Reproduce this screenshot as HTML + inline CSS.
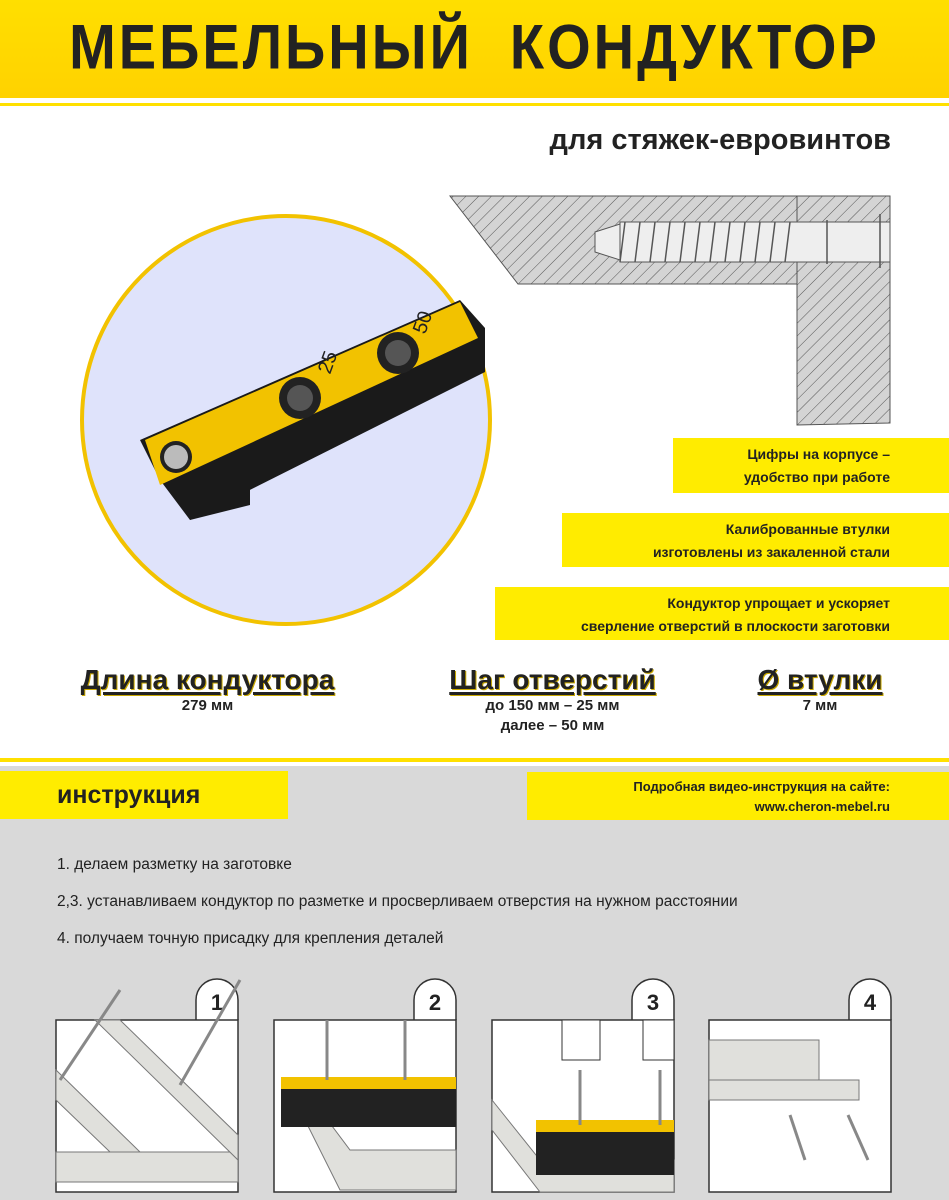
<!DOCTYPE html>
<html><head><meta charset="utf-8"><style>
body{margin:0;width:949px;height:1200px;overflow:hidden;background:#fff;font-family:"Liberation Sans","DejaVu Sans",sans-serif;position:relative}
.a{position:absolute}
.ban{position:absolute;background:#ffec00;right:0;text-align:right;font-weight:bold;font-size:14px;color:#222;line-height:23px;box-sizing:border-box;padding-right:59px;padding-top:5px}
.spec{position:absolute;text-align:center;font-weight:bold;color:#222}
.spec b{display:block;font-size:28px;text-decoration:underline;text-decoration-thickness:3px;text-underline-offset:3px;line-height:32px;text-shadow:1px 1px 0 #c9a800}
.spec span{font-size:15px;line-height:20px}
</style></head><body>
<div class="a" style="left:0;top:0;width:949px;height:98px;background:linear-gradient(#ffdf00,#ffd200)"></div>
<div class="a" style="left:0;top:103px;width:949px;height:3px;background:#ffe000"></div>
<div class="a" style="left:0;top:14px;width:949px;text-align:center;font-size:56px;font-weight:900;letter-spacing:3px;color:#222;transform:scaleY(1.12)">МЕБЕЛЬНЫЙ&nbsp; КОНДУКТОР</div>
<div class="a" style="right:58px;top:124px;font-size:29px;font-weight:bold;color:#222">для стяжек-евровинтов</div>

<svg class="a" style="left:0;top:0" width="949" height="770">
<defs><pattern id="h" width="9" height="9" patternUnits="userSpaceOnUse" patternTransform="rotate(45)"><rect width="9" height="9" fill="#d4d4d4"/><line x1="0" y1="0" x2="0" y2="9" stroke="#555" stroke-width="1"/></pattern></defs>
<polygon points="450,196 890,196 890,423 797,425 797,284 518,284" fill="url(#h)" stroke="#555"/>
<line x1="797" y1="196" x2="797" y2="284" stroke="#555"/>
<rect x="620" y="222" width="270" height="40" fill="#eee" stroke="#555"/>
<polygon points="595,232 620,224 620,260 595,252" fill="#eee" stroke="#555"/>
<g stroke="#555" stroke-width="1.5">
<line x1="625" y1="222" x2="620" y2="262"/><line x1="640" y1="222" x2="635" y2="262"/><line x1="655" y1="222" x2="650" y2="262"/><line x1="670" y1="222" x2="665" y2="262"/><line x1="685" y1="222" x2="680" y2="262"/><line x1="700" y1="222" x2="695" y2="262"/><line x1="715" y1="222" x2="710" y2="262"/><line x1="730" y1="222" x2="725" y2="262"/><line x1="745" y1="222" x2="740" y2="262"/><line x1="760" y1="222" x2="755" y2="262"/><line x1="775" y1="222" x2="770" y2="262"/><line x1="790" y1="222" x2="785" y2="262"/>
<line x1="827" y1="220" x2="827" y2="264"/><line x1="880" y1="214" x2="880" y2="268"/></g>
<circle cx="286" cy="420" r="204" fill="#dfe3fb" stroke="#f2c200" stroke-width="4"/>
<polygon points="140,440 460,300 485,328 485,372 190,520 160,480" fill="#1a1a1a"/>
<polygon points="145,440 460,302 478,338 160,485" fill="#f2c200"/>
<polygon points="190,490 250,470 250,505 190,520" fill="#1a1a1a"/>
<circle cx="176" cy="457" r="16" fill="#222"/><circle cx="176" cy="457" r="12" fill="#bbb"/>
<circle cx="300" cy="398" r="21" fill="#222"/><circle cx="300" cy="398" r="13" fill="#555"/>
<circle cx="398" cy="353" r="21" fill="#222"/><circle cx="398" cy="353" r="13" fill="#555"/>
<text x="330" y="375" font-size="20" transform="rotate(-70 330 375)" fill="#222">25</text>
<text x="425" y="335" font-size="20" transform="rotate(-70 425 335)" fill="#222">50</text>
</svg>

<div class="ban" style="top:438px;width:276px;height:55px">Цифры на корпусе –<br>удобство при работе</div>
<div class="ban" style="top:513px;width:387px;height:54px">Калиброванные втулки<br>изготовлены из закаленной стали</div>
<div class="ban" style="top:587px;width:454px;height:53px">Кондуктор упрощает и ускоряет<br>сверление отверстий в плоскости заготовки</div>

<div class="spec" style="left:50px;top:664px;width:315px"><b>Длина кондуктора</b><span>279 мм</span></div>
<div class="spec" style="left:415px;top:664px;width:275px"><b>Шаг отверстий</b><span>до 150 мм – 25 мм<br>далее – 50 мм</span></div>
<div class="spec" style="left:735px;top:664px;width:170px"><b>Ø втулки</b><span>7 мм</span></div>

<div class="a" style="left:0;top:758px;width:949px;height:4px;background:#ffe000"></div>
<div class="a" style="left:0;top:766px;width:949px;height:434px;background:#d9d9d9"></div>
<div class="a" style="left:0;top:771px;width:288px;height:48px;background:#ffec00;font-weight:bold;font-size:25px;color:#222;box-sizing:border-box;padding:10px 0 0 57px">инструкция</div>
<div class="a" style="left:527px;top:772px;width:422px;height:48px;background:#ffec00;font-weight:bold;font-size:13px;color:#222;text-align:right;box-sizing:border-box;padding:5px 59px 0 0;line-height:20px">Подробная видео-инструкция на сайте:<br>www.cheron-mebel.ru</div>
<div class="a" style="left:57px;top:846px;font-size:15.5px;color:#222;line-height:37px">1. делаем разметку на заготовке<br>2,3. устанавливаем кондуктор по разметке и просверливаем отверстия на нужном расстоянии<br>4. получаем точную присадку для крепления деталей</div>

<svg class="a" style="left:0;top:960px" width="949" height="240">
<g stroke="#333" stroke-width="1.5" fill="#fff">
<path d="M196,60 V40 A21,21 0 0 1 238,40 V60"/><path d="M414,60 V40 A21,21 0 0 1 456,40 V60"/><path d="M632,60 V40 A21,21 0 0 1 674,40 V60"/><path d="M849,60 V40 A21,21 0 0 1 891,40 V60"/>
<rect x="56" y="60" width="182" height="172"/><rect x="274" y="60" width="182" height="172"/><rect x="492" y="60" width="182" height="172"/><rect x="709" y="60" width="182" height="172"/>
</g>
<g font-size="22" font-weight="bold" fill="#222" text-anchor="middle"><text x="217" y="50">1</text><text x="435" y="50">2</text><text x="653" y="50">3</text><text x="870" y="50">4</text></g>
<g fill="#e0e0dc" stroke="#777">
<rect x="56" y="192" width="182" height="30"/>
<polygon points="56,110 140,192 110,192 56,140"/><polygon points="95,60 120,60 238,175 238,200"/>
<polygon points="300,150 340,230 456,230 456,190 350,190 320,150"/>
<polygon points="492,140 540,200 674,200 674,232 540,232 492,170"/>
<rect x="709" y="80" width="110" height="40"/><rect x="709" y="120" width="150" height="20"/>
</g>
<g fill="#222"><rect x="281" y="117" width="175" height="50"/><rect x="536" y="160" width="138" height="55"/></g>
<g fill="#f2c200"><rect x="281" y="117" width="175" height="12"/><rect x="536" y="160" width="138" height="12"/></g>
<g stroke="#888" stroke-width="3"><line x1="60" y1="120" x2="120" y2="30"/><line x1="180" y1="125" x2="240" y2="20"/>
<line x1="327" y1="60" x2="327" y2="120"/><line x1="405" y1="60" x2="405" y2="120"/><line x1="580" y1="110" x2="580" y2="165"/><line x1="660" y1="110" x2="660" y2="165"/>
<line x1="790" y1="155" x2="805" y2="200"/><line x1="848" y1="155" x2="868" y2="200"/></g>
<g fill="#fff" stroke="#333"><path d="M562,60 h38 v40 h-38 z"/><path d="M643,60 h31 v40 h-31 z"/></g>
</svg>
</body></html>
